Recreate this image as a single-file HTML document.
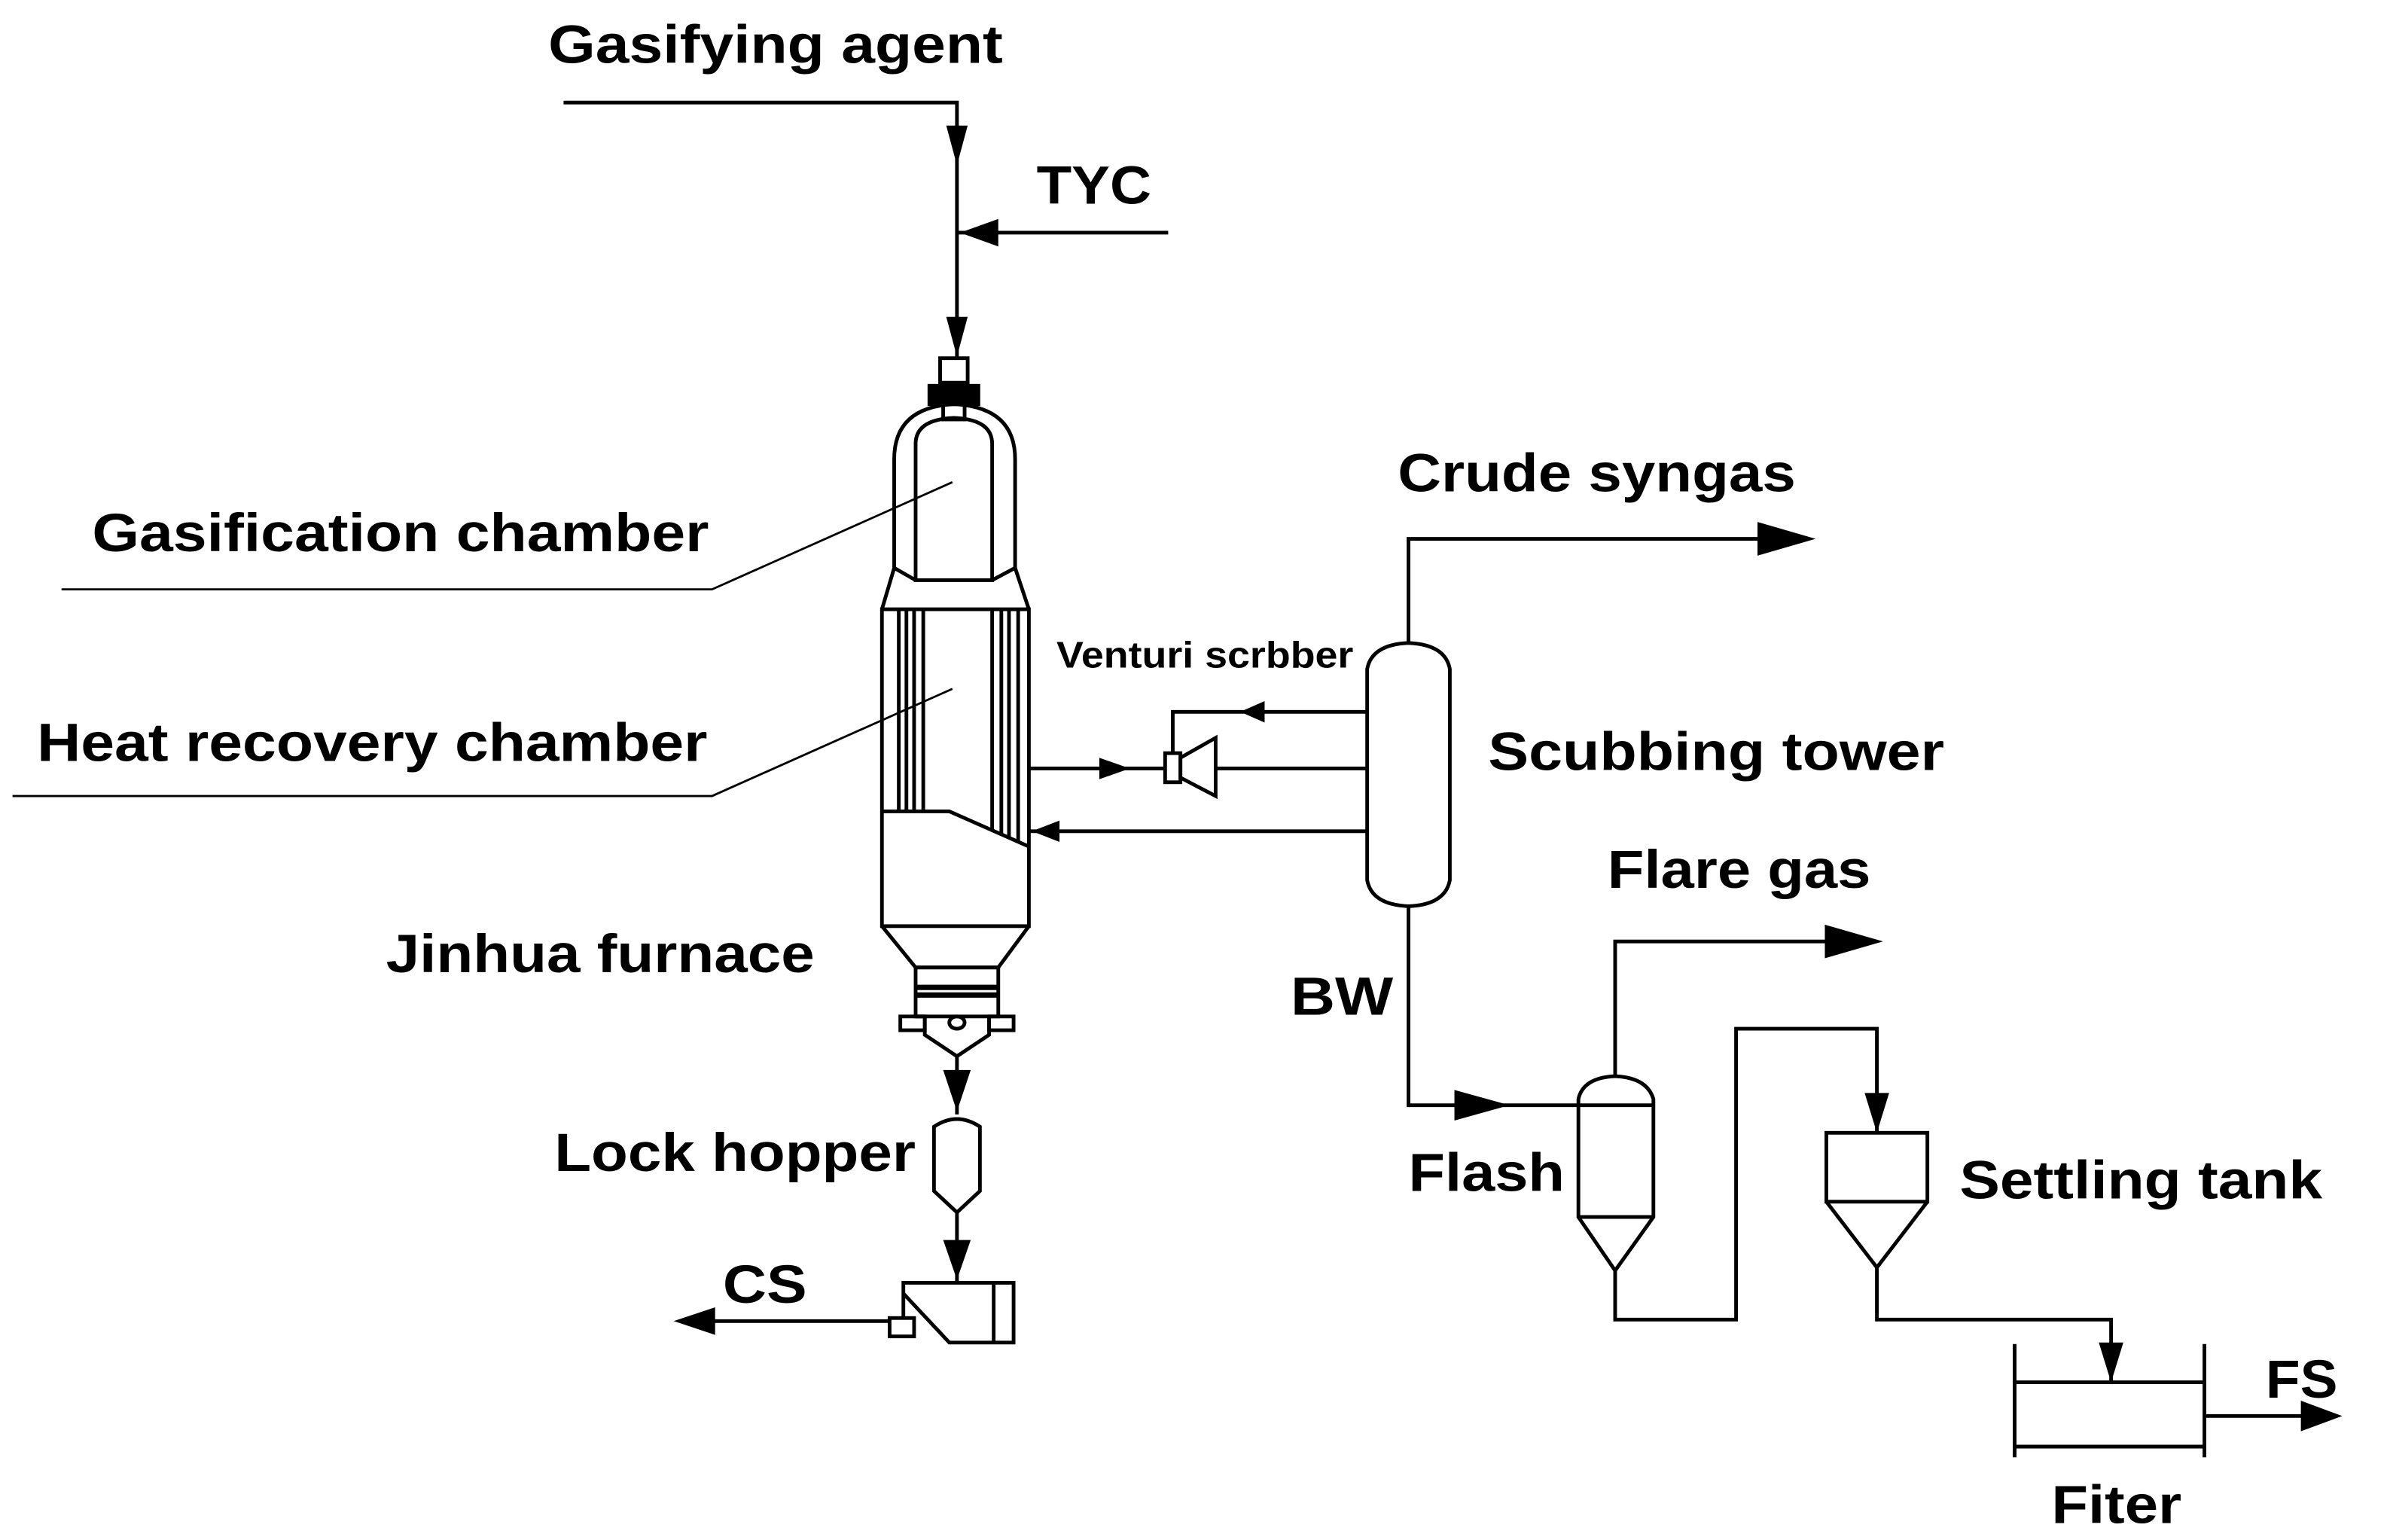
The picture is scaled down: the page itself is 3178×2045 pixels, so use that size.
<!DOCTYPE html>
<html><head><meta charset="utf-8"><style>
html,body{margin:0;padding:0;background:#fff;}
svg{display:block;}
text{font-family:"Liberation Sans",Arial,sans-serif;font-weight:bold;fill:#000;}
</style></head><body>
<svg width="3178" height="2045" viewBox="0 0 1563 1006" xmlns="http://www.w3.org/2000/svg">
<g fill="none" stroke="#000" stroke-width="2.4" stroke-linejoin="miter">
<!-- gasifying agent + TYC -->
<polyline points="368,67 625,67 625,234"/>
<line x1="763" y1="152" x2="625" y2="152"/>
<!-- nozzle/flange -->
<rect x="614" y="234" width="18" height="16"/>
<rect x="607" y="252" width="32" height="12" fill="#000"/>
<rect x="616" y="264" width="14" height="10"/>
<!-- gasification chamber -->
<path d="M584,371 L584,300 Q584,266 623,264 Q663,266 663,300 L663,371"/>
<path d="M598,379 L598,290 Q598,274 623,273 Q648,274 648,290 L648,379 Z"/>
<line x1="584" y1="371" x2="598" y2="379"/>
<line x1="663" y1="371" x2="648" y2="379"/>
<line x1="584" y1="371" x2="576" y2="398"/>
<line x1="663" y1="371" x2="672" y2="398"/>
<!-- main shell -->
<rect x="576" y="398" width="96" height="207"/>
<line x1="587" y1="398" x2="587" y2="530"/>
<line x1="592" y1="398" x2="592" y2="530"/>
<line x1="597" y1="398" x2="597" y2="530"/>
<line x1="603" y1="398" x2="603" y2="530"/>
<line x1="648" y1="398" x2="648" y2="542"/>
<line x1="654" y1="398" x2="654" y2="545"/>
<line x1="659" y1="398" x2="659" y2="547"/>
<line x1="665" y1="398" x2="665" y2="550"/>
<polyline points="576,530 620,530 672,553"/>
<!-- bottom cone -->
<polyline points="576,605 598,632 652,632 672,605"/>
<rect x="598" y="632" width="54" height="32"/>
<line x1="598" y1="645" x2="652" y2="645" stroke-width="3.5"/>
<line x1="598" y1="650" x2="652" y2="650" stroke-width="3.5"/>
<rect x="588" y="664" width="16" height="9"/>
<rect x="646" y="664" width="16" height="9"/>
<polyline points="604,664 604,676 625,690 646,676 646,664"/>
<line x1="598" y1="664" x2="604" y2="664"/>
<ellipse cx="625" cy="668" rx="5" ry="4"/>
<line x1="625" y1="690" x2="625" y2="728"/>
<!-- lock hopper -->
<path d="M610,736 Q625,726 640,736 L640,778 L625,792 L610,778 Z"/>
<line x1="625" y1="792" x2="625" y2="838"/>
<!-- CS box -->
<polyline points="590,860 590,838 662,838 662,877 620,877 590,845"/>
<line x1="649" y1="838" x2="649" y2="877"/>
<rect x="581" y="861" width="16" height="12"/>
<line x1="581" y1="863" x2="450" y2="863"/>
<!-- pointer lines -->
<polyline points="40,385 465,385 622,315" stroke-width="1.4"/>
<polyline points="8,520 465,520 622,450" stroke-width="1.4"/>
<!-- venturi loop -->
<polyline points="893,465 766,465 766,492"/>
<rect x="761" y="492" width="10" height="19"/>
<polygon points="771,495 794,482 794,520 771,508"/>
<line x1="672" y1="502" x2="761" y2="502"/>
<line x1="794" y1="502" x2="893" y2="502"/>
<line x1="893" y1="543" x2="672" y2="543"/>
<!-- scrubbing tower -->
<path d="M893,437 Q896,421 920,420 Q944,421 947,437 L947,575 Q944,591 920,592 Q896,591 893,575 Z"/>
<polyline points="920,420 920,352 1160,352"/>
<polyline points="920,592 920,722 1031,722"/>
<!-- flash -->
<path d="M1031,718 Q1034,704 1055,703 Q1076,704 1080,718 L1080,795 L1055,830 L1031,795 Z"/>
<line x1="1031" y1="722" x2="1080" y2="722"/>
<line x1="1031" y1="795" x2="1080" y2="795"/>
<polyline points="1055,703 1055,615 1200,615"/>
<polyline points="1055,830 1055,862 1134,862 1134,672 1226,672 1226,740"/>
<!-- settling tank -->
<rect x="1193" y="740" width="66" height="45"/>
<polyline points="1193,785 1226,828 1259,785"/>
<polyline points="1226,828 1226,862 1379,862 1379,903"/>
<!-- filter -->
<line x1="1316" y1="878" x2="1316" y2="952"/>
<line x1="1440" y1="878" x2="1440" y2="952"/>
<line x1="1316" y1="903" x2="1440" y2="903"/>
<line x1="1316" y1="945" x2="1440" y2="945"/>
<line x1="1440" y1="925" x2="1505" y2="925"/>
</g>
<g fill="#000">
<polygon points="618,82 632,82 625,108"/>
<polygon points="618,207 632,207 625,233"/>
<polygon points="652,143 652,161 627,152"/>
<polygon points="616,699 634,699 625,726"/>
<polygon points="616,810 634,810 625,836"/>
<polygon points="467,854 467,872 440,863"/>
<polygon points="826,458 826,472 810,465"/>
<polygon points="718,495 718,509 738,502"/>
<polygon points="692,536 692,550 674,543"/>
<polygon points="1148,341 1148,363 1186,352"/>
<polygon points="1192,604 1192,626 1230,615"/>
<polygon points="950,712 950,732 986,722"/>
<polygon points="1218,714 1234,714 1226,740"/>
<polygon points="1371,877 1387,877 1379,903"/>
<polygon points="1503,915 1503,935 1530,925"/>
</g>
<text x="358" y="41" font-size="35" textLength="297" lengthAdjust="spacingAndGlyphs">Gasifying agent</text>
<text x="677" y="133" font-size="35" textLength="75" lengthAdjust="spacingAndGlyphs">TYC</text>
<text x="60" y="360" font-size="35" textLength="403" lengthAdjust="spacingAndGlyphs">Gasification chamber</text>
<text x="24" y="497" font-size="35" textLength="438" lengthAdjust="spacingAndGlyphs">Heat recovery chamber</text>
<text x="252" y="635" font-size="35" textLength="280" lengthAdjust="spacingAndGlyphs">Jinhua furnace</text>
<text x="362" y="765" font-size="35" textLength="236" lengthAdjust="spacingAndGlyphs">Lock hopper</text>
<text x="472" y="851" font-size="35" textLength="55" lengthAdjust="spacingAndGlyphs">CS</text>
<text x="913" y="321" font-size="35" textLength="260" lengthAdjust="spacingAndGlyphs">Crude syngas</text>
<text x="690" y="436" font-size="24" textLength="194" lengthAdjust="spacingAndGlyphs">Venturi scrbber</text>
<text x="972" y="503" font-size="35" textLength="298" lengthAdjust="spacingAndGlyphs">Scubbing tower</text>
<text x="1050" y="580" font-size="35" textLength="172" lengthAdjust="spacingAndGlyphs">Flare gas</text>
<text x="843" y="663" font-size="35" textLength="67" lengthAdjust="spacingAndGlyphs">BW</text>
<text x="920" y="778" font-size="35" textLength="102" lengthAdjust="spacingAndGlyphs">Flash</text>
<text x="1280" y="783" font-size="35" textLength="237" lengthAdjust="spacingAndGlyphs">Settling tank</text>
<text x="1480" y="913" font-size="35" textLength="47" lengthAdjust="spacingAndGlyphs">FS</text>
<text x="1340" y="995" font-size="35" textLength="85" lengthAdjust="spacingAndGlyphs">Fiter</text>
</svg>
</body></html>
